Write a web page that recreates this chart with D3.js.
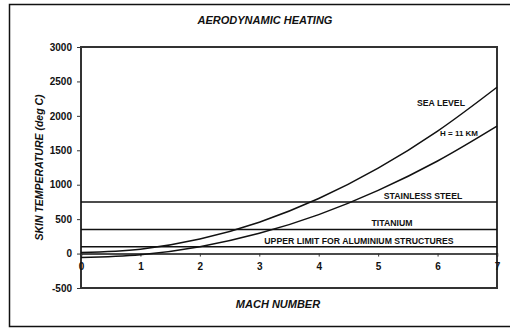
<!DOCTYPE html>
<html>
<head>
<meta charset="utf-8">
<script src="https://cdn.jsdelivr.net/npm/d3@7"></script>
<style>
  body { margin: 0; background: #fff; }
  text { font-family: Arial, "Liberation Sans", sans-serif; font-weight: bold; fill: #111; }
</style>
</head>
<body>
<svg id="chart"></svg>
<script>
// chart data
var mach = [0, 1, 2, 3, 4, 5, 6, 7];
var seaLevel = [15, 64, 211, 456, 799, 1240, 1779, 2416];
var elevenKm = [-56, -17, 100, 294, 566, 917, 1344, 1850];
var limitNames = ["STAINLESS STEEL", "TITANIUM", "UPPER LIMIT FOR ALUMINIUM STRUCTURES"];
var limitValues = [750, 350, 100];
var yTicks = [-500, 0, 500, 1000, 1500, 2000, 2500, 3000];
var xTicks = [0, 1, 2, 3, 4, 5, 6, 7];

var width = 510, height = 328;
var svg = d3.select("#chart").attr("width", width).attr("height", height);

// outer frame
svg.append("rect")
  .attr("x", 9.5).attr("y", 4.5)
  .attr("width", 520).attr("height", 322)
  .attr("fill", "none").attr("stroke", "#111").attr("stroke-width", 1.5);

// plot box edges (don't call it "top", clashes with window.top)
var plotL = 81, plotR = 497, plotT = 47, plotB = 288;

var x = d3.scaleLinear().domain([0, 7]).range([plotL, plotR]);
var y = d3.scaleLinear().domain([-500, 3000]).range([plotB, plotT]);

// title
svg.append("text")
  .attr("x", 265).attr("y", 24)
  .attr("text-anchor", "middle")
  .attr("font-size", 11).attr("font-style", "italic")
  .text("AERODYNAMIC HEATING");

// plot frame
svg.append("rect")
  .attr("x", plotL).attr("y", plotT)
  .attr("width", plotR - plotL).attr("height", plotB - plotT)
  .attr("fill", "none").attr("stroke", "#333").attr("stroke-width", 2);

// y axis, plain hyphen for the minus like the original
var fmt = function(d) { return String(d); };
var yAxis = svg.append("g")
  .attr("transform", "translate(" + plotL + ",0)")
  .call(d3.axisLeft(y).tickValues(yTicks).tickFormat(fmt).tickSize(4).tickPadding(5));
yAxis.select(".domain").remove();
yAxis.selectAll("line").attr("stroke", "#333");
yAxis.selectAll("text")
  .attr("font-size", 10).attr("font-family", "Arial, 'Liberation Sans', sans-serif")
  .attr("font-weight", "bold").attr("fill", "#111");

// x axis sitting on the zero line
var xAxis = svg.append("g")
  .attr("transform", "translate(0," + y(0) + ")")
  .call(d3.axisBottom(x).tickValues(xTicks).tickFormat(fmt).tickSize(3).tickPadding(6));
xAxis.select(".domain").attr("stroke", "#111").attr("stroke-width", 1.5);
xAxis.selectAll("line").attr("stroke", "#333");
xAxis.selectAll("text")
  .attr("font-size", 10).attr("font-family", "Arial, 'Liberation Sans', sans-serif")
  .attr("font-weight", "bold").attr("fill", "#111");

// axis titles
svg.append("text")
  .attr("transform", "translate(43," + (plotT + plotB) / 2 + ") rotate(-90)")
  .attr("text-anchor", "middle")
  .attr("font-size", 10.5).attr("font-style", "italic")
  .text("SKIN TEMPERATURE (deg C)");

svg.append("text")
  .attr("x", 278).attr("y", 308)
  .attr("text-anchor", "middle")
  .attr("font-size", 11).attr("font-style", "italic")
  .text("MACH NUMBER");

// material limits
limitValues.forEach(function(v) {
  svg.append("line")
    .attr("x1", x(0)).attr("x2", x(7))
    .attr("y1", y(v)).attr("y2", y(v))
    .attr("stroke", "#111").attr("stroke-width", 1.5);
});
var limitLabelX = [423, 392, 359];
limitNames.forEach(function(name, i) {
  svg.append("text")
    .attr("x", limitLabelX[i]).attr("y", y(limitValues[i]) - 3)
    .attr("text-anchor", "middle")
    .attr("font-size", 8.7)
    .text(name);
});

// curves
var line = d3.line()
  .x(function(d) { return x(d[0]); })
  .y(function(d) { return y(d[1]); })
  .curve(d3.curveMonotoneX);

[seaLevel, elevenKm].forEach(function(series) {
  svg.append("path")
    .datum(mach.map(function(m, i) { return [m, series[i]]; }))
    .attr("d", line)
    .attr("fill", "none").attr("stroke", "#111").attr("stroke-width", 1.5);
});

svg.append("text")
  .attr("x", 441).attr("y", 106)
  .attr("text-anchor", "middle").attr("font-size", 8.7)
  .text("SEA LEVEL");
svg.append("text")
  .attr("x", 459).attr("y", 136)
  .attr("text-anchor", "middle").attr("font-size", 8)
  .text("H = 11 KM");
</script>
</body>
</html>
